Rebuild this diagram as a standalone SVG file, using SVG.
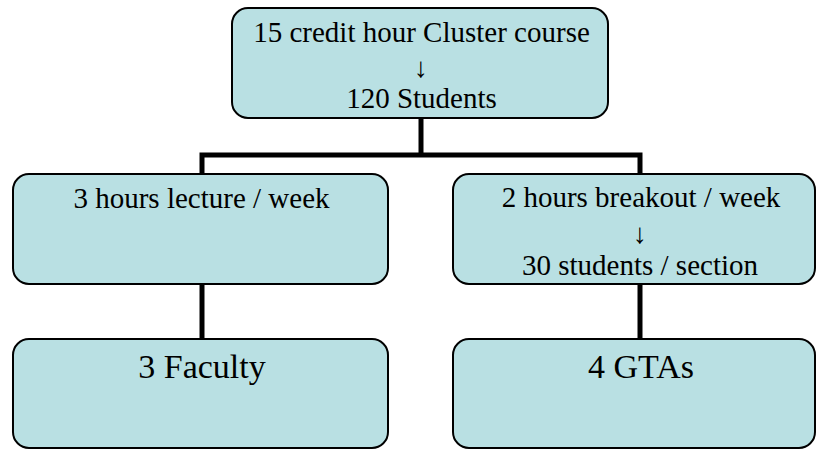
<svg xmlns="http://www.w3.org/2000/svg" width="817" height="450" viewBox="0 0 817 450">
<style>
.box{fill:#B9E0E3;stroke:#000;stroke-width:2}
.t{font-family:'Liberation Serif','DejaVu Serif',serif;font-size:29px;fill:#000;text-anchor:middle}
.big{font-size:34px}
.arr{font-size:28px}
.con{fill:none;stroke:#000;stroke-width:5;stroke-linejoin:miter}
</style>
<rect width="817" height="450" fill="#fff"/>
<g id="connectors">
<path class="con" d="M421 118 V155"/>
<path class="con" d="M202 174 V155 H640 V174"/>
<path class="con" d="M202 284 V339"/>
<path class="con" d="M640 284 V339"/>
</g>
<g id="top">
<rect class="box" x="232" y="8" width="376" height="110" rx="16"/>
<text class="t" x="421.5" y="42">15 credit hour Cluster course</text>
<text class="t arr" x="421" y="77">↓</text>
<text class="t" x="421.5" y="108">120 Students</text>
</g>
<g id="lecture">
<rect class="box" x="13" y="174" width="375" height="110" rx="16"/>
<text class="t" x="201.5" y="208">3 hours lecture / week</text>
</g>
<g id="breakout">
<rect class="box" x="453" y="174" width="362" height="110" rx="16"/>
<text class="t" x="641" y="207">2 hours breakout / week</text>
<text class="t arr" x="640" y="243">↓</text>
<text class="t" x="640" y="275">30 students / section</text>
</g>
<g id="faculty">
<rect class="box" x="13" y="339" width="375" height="109" rx="16"/>
<text class="t big" x="202" y="378">3 Faculty</text>
</g>
<g id="gtas">
<rect class="box" x="453" y="339" width="362" height="109" rx="16"/>
<text class="t big" x="641" y="378">4 GTAs</text>
</g>
</svg>
